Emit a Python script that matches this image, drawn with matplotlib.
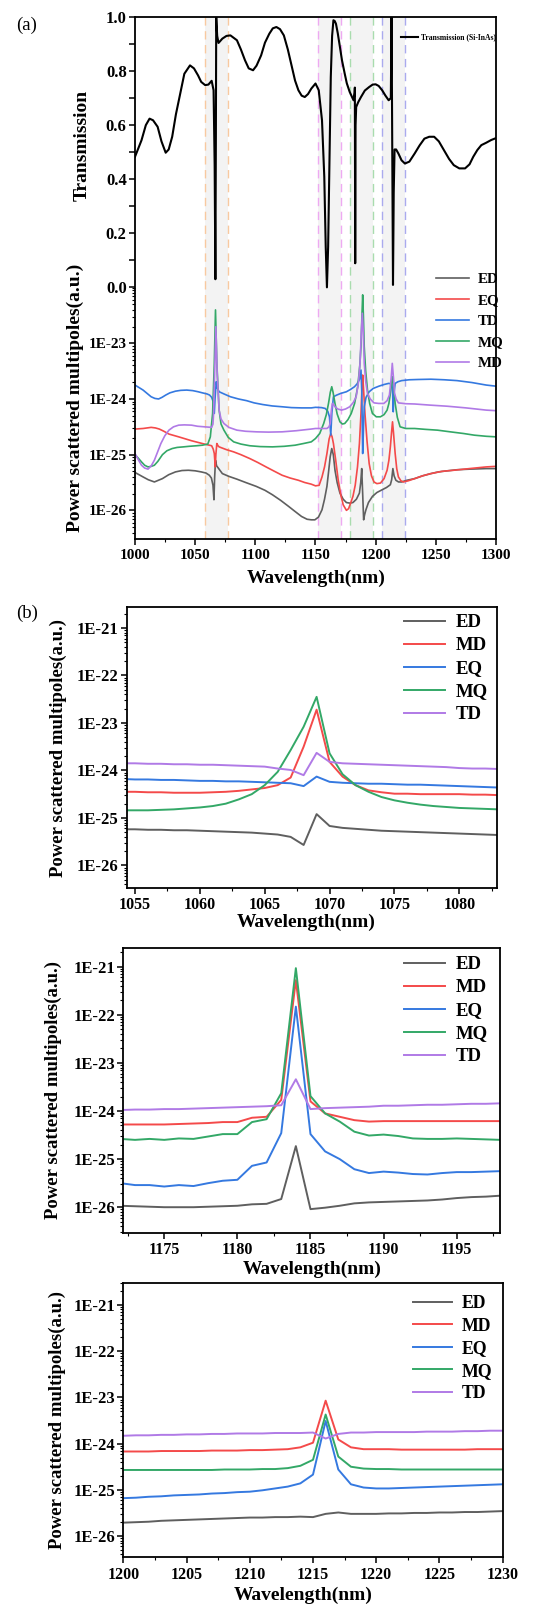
import numpy as np
import matplotlib
matplotlib.use("Agg")
import matplotlib.pyplot as plt
from matplotlib.ticker import FixedLocator, FuncFormatter, MultipleLocator, NullFormatter

plt.rcParams['font.family'] = ['Liberation Serif', 'DejaVu Serif']
plt.rcParams['font.weight'] = 'bold'
plt.rcParams['axes.labelweight'] = 'bold'

# ---------------- DATA: panel (a) ----------------
trans_wl = [1000, 1005.4, 1009, 1012.1, 1015, 1018.8, 1022, 1025.5, 1028, 1030.9, 1034, 1037.6, 1041,
            1045.7, 1049, 1052.4, 1055, 1058.3, 1061, 1063.7, 1065.3, 1066.2, 1066.8, 1067.2, 1067.5,
            1068.3, 1069.4, 1072.6, 1076, 1079.3, 1084.7, 1088, 1091.4, 1094.5, 1098.1, 1101, 1104.8,
            1108, 1111.6, 1114.5, 1117.5, 1120.5, 1123.7, 1127, 1130.4, 1133, 1135.8, 1138.5, 1141.1,
            1143.8, 1146.5, 1150, 1152.7, 1155.4, 1157.3, 1158.5, 1159.5, 1160.5, 1161.4, 1162.7,
            1163.8, 1164.9, 1166.0, 1167.0, 1168.5, 1170.3, 1172, 1174.3, 1176, 1178.4, 1181.6, 1182.5,
            1182.7, 1183.0, 1183.3, 1183.8, 1185.5, 1187.8, 1191, 1194.6, 1197.5, 1200, 1202.5, 1205.4,
            1208, 1210.8, 1212.6, 1213.2, 1213.8, 1214.4, 1215.0, 1215.7, 1217, 1218.9, 1221.5, 1224.3,
            1228, 1232.4, 1236.5, 1240.5, 1244.5, 1248.6, 1252.5, 1256.8, 1261, 1264.9, 1269.5, 1274.3,
            1278, 1281.1, 1284.5, 1287.8, 1291.9, 1296, 1300]
trans_val = [0.483, 0.544, 0.60, 0.624, 0.618, 0.594, 0.54, 0.498, 0.51, 0.557, 0.64, 0.717, 0.79,
             0.821, 0.81, 0.784, 0.76, 0.748, 0.75, 0.764, 0.729, 0.45, 0.03, 0.55, 1.0,
             0.93, 0.904, 0.92, 0.93, 0.932, 0.914, 0.88, 0.84, 0.81, 0.803, 0.82, 0.858,
             0.905, 0.938, 0.958, 0.963, 0.955, 0.932, 0.88, 0.815, 0.765, 0.729, 0.709, 0.704,
             0.715, 0.735, 0.754, 0.729, 0.618, 0.409, 0.15, 0.0, 0.15, 0.409, 0.778,
             0.93, 0.988, 0.985, 0.975, 0.94, 0.889, 0.84, 0.79, 0.755, 0.723, 0.692, 0.72,
             0.739, 0.089, 0.60, 0.667, 0.685, 0.704, 0.728, 0.741, 0.75, 0.751, 0.745, 0.729,
             0.71, 0.692, 0.70, 1.0, 0.5, 0.009, 0.35, 0.51, 0.51, 0.495, 0.47, 0.458,
             0.465, 0.495, 0.525, 0.55, 0.557, 0.557, 0.54, 0.507, 0.475, 0.452, 0.44, 0.44,
             0.455, 0.483, 0.508, 0.526, 0.535, 0.545, 0.552]

a_ed_wl = [1000, 1006.7, 1011, 1016.1, 1022.8, 1028, 1033.6, 1039, 1044.4, 1050, 1055.1, 1059, 1061.8,
           1063.5, 1064.8, 1065.6, 1066.2, 1066.9, 1067.8, 1068.5, 1072.6, 1078, 1084.7, 1092, 1100.8,
           1108, 1114.2, 1121, 1127.7, 1133, 1138.4, 1143, 1146.5, 1149.5, 1152.5, 1155.4, 1157.5,
           1159.5, 1161, 1162.2, 1163.5, 1164.8, 1166.2, 1168, 1170.3, 1173, 1175.7, 1178.5, 1181.1,
           1184, 1186.5, 1187.6, 1188.4, 1189.2, 1190, 1190.8, 1191.9, 1194, 1197.3, 1201, 1205.4,
           1209, 1212.2, 1213.3, 1214.3, 1215.3, 1216.8, 1219, 1221.6, 1226, 1232.4, 1239, 1245.9,
           1252, 1259.5, 1268, 1278.4, 1291.9, 1300]
a_ed_log = [-25.32, -25.40, -25.45, -25.49, -25.43, -25.36, -25.31, -25.285, -25.28, -25.29, -25.31,
            -25.33, -25.37, -25.42, -25.55, -25.81, -25.40, -25.10, -25.20, -25.22, -25.34, -25.39,
            -25.44, -25.50, -25.57, -25.64, -25.72, -25.82, -25.93, -26.02, -26.11, -26.16, -26.17,
            -26.17, -26.12, -25.99, -25.80, -25.57, -25.28, -25.04, -24.89, -25.0, -25.28, -25.50,
            -25.69, -25.80, -25.86, -25.87, -25.86, -25.80, -25.69, -25.50, -25.25, -25.70, -26.17,
            -26.08, -25.99, -25.86, -25.75, -25.68, -25.63, -25.59, -25.54, -25.45, -25.25, -25.38,
            -25.46, -25.49, -25.49, -25.46, -25.43, -25.38, -25.34, -25.31, -25.29, -25.27, -25.26,
            -25.25, -25.25]

a_eq_wl = [1000, 1006.7, 1013.4, 1017, 1020.2, 1024, 1028.2, 1036.3, 1047, 1057.8, 1063.7, 1065,
           1065.9, 1066.7, 1067.2, 1068, 1069, 1069.9, 1076, 1082, 1088, 1095.4, 1102, 1108.9, 1116,
           1122.3, 1129, 1135.8, 1141, 1146.5, 1150, 1153, 1155.4, 1157.5, 1159.5, 1161.3, 1162.7,
           1163.8, 1164.9, 1166.8, 1168.9, 1171, 1173, 1175.7, 1177.5, 1179.5, 1181.1, 1183, 1184.9,
           1186.5, 1187.8, 1188.6, 1189.2, 1190.0, 1191.1, 1192.8, 1194.6, 1196.5, 1198.6, 1201,
           1204, 1207, 1209.5, 1211, 1212.2, 1213.2, 1214, 1214.8, 1216.2, 1217.5, 1218.9, 1221,
           1223, 1227, 1232.4, 1239, 1245.9, 1255, 1264.9, 1278, 1291.9, 1300]
a_eq_log = [-24.54, -24.53, -24.51, -24.52, -24.54, -24.58, -24.63, -24.68, -24.75, -24.81, -24.84,
            -24.90, -24.98, -25.22, -25.0, -24.80, -24.84, -24.86, -24.91, -24.95, -25.0, -25.07,
            -25.14, -25.22, -25.30, -25.37, -25.42, -25.46, -25.50, -25.53, -25.56, -25.55, -25.40,
            -25.22, -24.98, -24.72, -24.62, -24.68, -24.80, -25.10, -25.46, -25.72, -25.90, -26.0,
            -25.97, -25.85, -25.75, -25.55, -25.22, -24.80, -24.26, -23.80, -23.57, -23.85, -24.26,
            -24.75, -25.16, -25.38, -25.49, -25.52, -25.51, -25.43, -25.28, -25.10, -24.86, -24.60,
            -24.41, -24.60, -24.98, -25.25, -25.40, -25.47, -25.49, -25.47, -25.43, -25.38, -25.34,
            -25.30, -25.28, -25.25, -25.22, -25.21]

a_td_wl = [1000, 1006.7, 1013.4, 1016.5, 1019.6, 1022.5, 1025.5, 1029, 1033.6, 1038, 1043, 1048,
           1052.4, 1056, 1059.9, 1062, 1063.7, 1065, 1065.9, 1066.5, 1067.5, 1068.3, 1069.9, 1074,
           1079.3, 1086, 1092.7, 1099, 1106.2, 1114, 1122.3, 1130, 1138.4, 1146.5, 1150, 1155,
           1158.1, 1160.2, 1161.6, 1162.7, 1163.6, 1164.9, 1167.6, 1171, 1175.7, 1179, 1182.4,
           1184.5, 1186.5, 1187.8, 1188.5, 1189.2, 1189.9, 1190.5, 1192, 1194.6, 1198, 1202.7, 1207,
           1210.8, 1213.5, 1214.1, 1214.6, 1215.2, 1216.2, 1218.5, 1221.6, 1228, 1235, 1245.9, 1257,
           1267.6, 1280, 1291.9, 1300]
a_td_log = [-23.75, -23.84, -23.96, -23.99, -24.0, -23.97, -23.93, -23.89, -23.86, -23.845, -23.84,
            -23.85, -23.87, -23.89, -23.91, -23.93, -23.97, -24.05, -24.26, -24.0, -23.69, -23.80,
            -23.87, -23.91, -23.96, -24.0, -24.03, -24.07, -24.10, -24.125, -24.14, -24.155, -24.16,
            -24.16, -24.15, -24.155, -24.17, -24.22, -24.32, -24.65, -24.25, -23.96, -23.93, -23.90,
            -23.87, -23.83, -23.78, -23.73, -23.65, -23.48, -23.90, -24.98, -24.50, -24.14, -23.97,
            -23.87, -23.81, -23.77, -23.74, -23.72, -23.73, -23.90, -24.23, -23.90, -23.72, -23.69,
            -23.67, -23.655, -23.65, -23.645, -23.655, -23.67, -23.705, -23.75, -23.77]

a_mq_wl = [1000, 1003, 1005.4, 1008, 1010.8, 1013.5, 1016.1, 1019, 1022.8, 1026.5, 1030.9, 1035,
           1040.3, 1045, 1051.1, 1056, 1060.5, 1062.6, 1064.5, 1065.9, 1066.9, 1068, 1069.9, 1071.5,
           1073.9, 1077.5, 1082, 1088, 1095.4, 1104, 1114.2, 1124, 1133.1, 1140, 1146.5, 1150,
           1153.5, 1156.8, 1159, 1160.8, 1162.3, 1163.5, 1164.6, 1166.2, 1168, 1170.3, 1172.3,
           1174.3, 1177, 1179.7, 1182.5, 1185.1, 1186.8, 1187.8, 1188.6, 1189.2, 1189.8, 1190.5,
           1191.7, 1193.2, 1195, 1197.3, 1200.5, 1204, 1207, 1209.5, 1211, 1212.2, 1213.2, 1214,
           1215, 1216.2, 1218, 1220.3, 1225, 1232.4, 1241, 1251.4, 1262, 1273, 1282, 1291.9, 1300]
a_mq_log = [-25.0, -25.07, -25.13, -25.19, -25.22, -25.21, -25.19, -25.12, -25.0, -24.93, -24.89,
            -24.87, -24.86, -24.85, -24.84, -24.83, -24.81, -24.68, -24.26, -23.36, -22.40, -23.36,
            -24.20, -24.45, -24.56, -24.69, -24.77, -24.81, -24.84, -24.855, -24.86, -24.85, -24.83,
            -24.80, -24.77, -24.71, -24.62, -24.44, -24.28, -24.08, -23.88, -23.78, -23.88, -24.08,
            -24.27, -24.41, -24.45, -24.44, -24.37, -24.26, -24.08, -23.78, -23.40, -23.06, -22.50,
            -22.13, -22.50, -23.06, -23.50, -23.84, -24.08, -24.26, -24.32, -24.32, -24.28, -24.20,
            -24.08, -23.90, -23.70, -23.60, -23.80, -24.08, -24.33, -24.50, -24.53, -24.53, -24.545,
            -24.56, -24.59, -24.62, -24.65, -24.67, -24.68]

a_md_wl = [1000, 1003, 1005.4, 1008, 1010.8, 1013.5, 1016.1, 1018.8, 1021.5, 1024.8, 1028.2, 1032,
           1036.3, 1041, 1047, 1052, 1057.8, 1063.7, 1064.8, 1065.3, 1066.4, 1067.2, 1068.3, 1069.9,
           1071.5, 1073.9, 1078, 1084.7, 1092, 1100.8, 1111, 1122.3, 1134, 1146.5, 1150, 1155,
           1159.5, 1161.2, 1162.2, 1163.2, 1164, 1165, 1166.2, 1168.5, 1171.6, 1175, 1178.4, 1181.5,
           1183.8, 1185.7, 1187, 1188.1, 1188.9, 1189.7, 1190.5, 1191.8, 1193.2, 1195.5, 1198.6,
           1202.5, 1206.8, 1209.5, 1211.4, 1212.8, 1213.8, 1214.8, 1215.7, 1217, 1218.9, 1225,
           1232.4, 1245, 1259.5, 1275, 1291.9, 1300]
a_md_log = [-24.98, -25.10, -25.19, -25.24, -25.26, -25.20, -25.10, -24.95, -24.80, -24.66, -24.56,
            -24.50, -24.47, -24.465, -24.47, -24.49, -24.50, -24.51, -24.45, -24.26, -23.36, -22.70,
            -23.54, -24.20, -24.36, -24.44, -24.51, -24.56, -24.58, -24.59, -24.595, -24.59, -24.57,
            -24.54, -24.53, -24.53, -24.53, -24.50, -24.44, -24.20, -24.08, -24.10, -24.14, -24.18,
            -24.20, -24.18, -24.14, -24.06, -23.96, -23.70, -23.36, -22.80, -22.46, -22.80, -23.36,
            -23.70, -23.90, -24.0, -24.07, -24.08, -24.08, -24.03, -23.93, -23.65, -23.36, -23.62,
            -23.90, -24.0, -24.07, -24.085, -24.09, -24.11, -24.13, -24.16, -24.20, -24.21]

a_labels = ['ED', 'EQ', 'TD', 'MQ', 'MD']
shade_bands = [(1058, 1077), (1152, 1171), (1178.5, 1198), (1205, 1224.5)]

# ---------------- DATA: panel (b) ----------------
b_labels = ['ED', 'MD', 'EQ', 'MQ', 'TD']

b1_wl = list(range(1054, 1084))
b1_ed = [-25.24, -25.24, -25.25, -25.25, -25.26, -25.26, -25.27, -25.28, -25.29, -25.30, -25.31,
         -25.33, -25.35, -25.40, -25.57, -24.92, -25.17, -25.21, -25.23, -25.25, -25.27, -25.28,
         -25.29, -25.30, -25.31, -25.32, -25.33, -25.34, -25.35, -25.36]
b1_md = [-24.45, -24.45, -24.46, -24.46, -24.47, -24.47, -24.47, -24.46, -24.45, -24.43, -24.40,
         -24.37, -24.31, -24.15, -23.50, -22.72, -23.82, -24.13, -24.31, -24.42, -24.46, -24.49,
         -24.49, -24.50, -24.50, -24.50, -24.50, -24.51, -24.51, -24.52]
b1_eq = [-24.18, -24.19, -24.19, -24.20, -24.20, -24.21, -24.22, -24.22, -24.23, -24.23, -24.24,
         -24.25, -24.26, -24.27, -24.33, -24.13, -24.24, -24.26, -24.27, -24.28, -24.28, -24.29,
         -24.30, -24.30, -24.31, -24.32, -24.33, -24.34, -24.35, -24.36]
b1_mq = [-24.84, -24.84, -24.84, -24.83, -24.82, -24.80, -24.78, -24.75, -24.70, -24.61, -24.50,
         -24.31, -24.03, -23.57, -23.08, -22.45, -23.64, -24.08, -24.31, -24.45, -24.56, -24.63,
         -24.68, -24.72, -24.75, -24.77, -24.79, -24.80, -24.81, -24.82]
b1_td = [-23.85, -23.85, -23.86, -23.86, -23.87, -23.87, -23.88, -23.88, -23.89, -23.90, -23.91,
         -23.92, -23.96, -23.99, -24.10, -23.63, -23.82, -23.85, -23.86, -23.87, -23.88, -23.89,
         -23.90, -23.91, -23.92, -23.93, -23.95, -23.96, -23.96, -23.97]

b2_wl = list(range(1172, 1199))
b2_ed = [-25.97, -25.98, -25.99, -26.0, -26.0, -26.0, -25.99, -25.98, -25.97, -25.94, -25.93, -25.83,
         -24.73, -26.04, -26.01, -25.97, -25.92, -25.90, -25.89, -25.88, -25.87, -25.86, -25.84,
         -25.81, -25.79, -25.78, -25.76]
b2_md = [-24.28, -24.28, -24.28, -24.28, -24.27, -24.26, -24.25, -24.23, -24.23, -24.14, -24.12,
         -23.77, -21.28, -23.80, -24.05, -24.12, -24.19, -24.22, -24.21, -24.21, -24.21, -24.21,
         -24.21, -24.21, -24.21, -24.21, -24.21]
b2_eq = [-25.50, -25.54, -25.54, -25.57, -25.54, -25.56, -25.50, -25.45, -25.43, -25.14, -25.07,
         -24.46, -21.83, -24.48, -24.84, -25.0, -25.21, -25.29, -25.26, -25.28, -25.31, -25.32,
         -25.29, -25.27, -25.27, -25.26, -25.25]
b2_mq = [-24.58, -24.60, -24.58, -24.60, -24.57, -24.58, -24.53, -24.48, -24.48, -24.23, -24.17,
         -23.63, -21.03, -23.69, -24.05, -24.22, -24.43, -24.51, -24.49, -24.52, -24.57, -24.58,
         -24.58, -24.57, -24.58, -24.59, -24.60]
b2_td = [-23.98, -23.97, -23.97, -23.96, -23.96, -23.95, -23.94, -23.93, -23.92, -23.91, -23.90,
         -23.88, -23.34, -23.96, -23.94, -23.93, -23.92, -23.91, -23.89, -23.89, -23.88, -23.87,
         -23.87, -23.86, -23.85, -23.85, -23.84]

b3_wl = list(range(1200, 1231))
b3_ed = [-25.71, -25.70, -25.69, -25.67, -25.66, -25.65, -25.64, -25.63, -25.62, -25.61, -25.60,
         -25.60, -25.59, -25.59, -25.58, -25.59, -25.52, -25.49, -25.52, -25.52, -25.52, -25.51,
         -25.51, -25.50, -25.50, -25.49, -25.49, -25.48, -25.48, -25.47, -25.46]
b3_md = [-24.17, -24.17, -24.17, -24.16, -24.16, -24.16, -24.16, -24.15, -24.15, -24.15, -24.14,
         -24.14, -24.13, -24.12, -24.08, -23.98, -23.07, -23.91, -24.08, -24.12, -24.12, -24.12,
         -24.13, -24.13, -24.13, -24.13, -24.13, -24.13, -24.12, -24.12, -24.12]
b3_eq = [-25.18, -25.17, -25.15, -25.14, -25.12, -25.11, -25.10, -25.08, -25.07, -25.05, -25.04,
         -25.01, -24.97, -24.93, -24.86, -24.67, -23.51, -24.56, -24.88, -24.95, -24.97, -24.97,
         -24.96, -24.95, -24.94, -24.93, -24.92, -24.91, -24.90, -24.89, -24.88]
b3_mq = [-24.57, -24.57, -24.57, -24.57, -24.57, -24.57, -24.57, -24.57, -24.56, -24.56, -24.56,
         -24.55, -24.55, -24.53, -24.48, -24.35, -23.37, -24.28, -24.50, -24.54, -24.55, -24.55,
         -24.56, -24.56, -24.56, -24.56, -24.56, -24.56, -24.56, -24.56, -24.56]
b3_td = [-23.83, -23.82, -23.82, -23.81, -23.81, -23.80, -23.80, -23.79, -23.79, -23.78, -23.78,
         -23.78, -23.77, -23.77, -23.77, -23.76, -23.89, -23.79, -23.76, -23.76, -23.75, -23.75,
         -23.75, -23.75, -23.74, -23.74, -23.74, -23.73, -23.73, -23.72, -23.72]

# ---------------- STYLE ----------------
colors = ['#5f5f5f', '#f44a4a', '#3579e0', '#33a867', '#b07ae6']
band_line_colors = ['#f8c9a0', '#eeaaf2', '#a9dcae', '#aaaaee']

W, H = 537, 1607
fig = plt.figure(figsize=(W / 100, H / 100), dpi=100)


def rect(l, t, r, b):
    return [l / W, 1 - b / H, (r - l) / W, (b - t) / H]


def fmt_e(v, p):
    return "1E%d" % int(round(np.log10(v)))


def style_axes(ax, lw=1.3):
    for s in ax.spines.values():
        s.set_linewidth(lw)
    ax.tick_params(which='major', direction='out', length=4, width=1.1, pad=2)
    ax.tick_params(which='minor', direction='out', length=2.2, width=0.8)


LEGEND_FONT = 'Liberation Serif'

# ---------------- PANEL (a) ----------------
ax = fig.add_axes(rect(135, 17, 496, 539.3))
ax.set_yscale('log')
ax.set_xlim(1000, 1300)
ax.set_ylim(10 ** -26.52, 10 ** -17.14)
for (lo, hi), c in zip(shade_bands, band_line_colors):
    ax.axvspan(lo, hi, color='#f3f3f3', zorder=0, lw=0)
    ax.axvline(lo, color=c, ls=(0, (6, 4)), lw=1.0, zorder=0.5)
    ax.axvline(hi, color=c, ls=(0, (6, 4)), lw=1.0, zorder=0.5)

series_a = [(a_ed_wl, a_ed_log), (a_eq_wl, a_eq_log), (a_td_wl, a_td_log),
            (a_mq_wl, a_mq_log), (a_md_wl, a_md_log)]
handles = []
for (wl, lg), c, lab in zip(series_a, colors, a_labels):
    h, = ax.plot(wl, 10 ** np.array(lg), color=c, lw=1.2, label=lab)
    handles.append(h)

ax.yaxis.set_major_locator(FixedLocator([1e-26, 1e-25, 1e-24, 1e-23]))
ax.yaxis.set_major_formatter(FuncFormatter(fmt_e))
minor = [k * 10.0 ** n for n in range(-27, -22) for k in range(2, 10)]
minor = [m for m in minor if 10 ** -26.52 < m < 1e-22] + [1e-22]
ax.yaxis.set_minor_locator(FixedLocator(minor))
ax.yaxis.set_minor_formatter(NullFormatter())
ax.xaxis.set_major_locator(MultipleLocator(50))
ax.xaxis.set_minor_locator(MultipleLocator(25))
style_axes(ax)
ax.tick_params(axis='x', labelsize=11, pad=3)
ax.tick_params(axis='y', labelsize=11)

axt = ax.twinx()
axt.set_ylim(-0.932, 1.0)
axt.plot(trans_wl, trans_val, color='black', lw=1.5, label='Transmission (Si-InAs)')
axt.yaxis.tick_left()
axt.yaxis.set_label_position('left')
axt.yaxis.set_major_locator(FixedLocator([0.0, 0.2, 0.4, 0.6, 0.8, 1.0]))
axt.yaxis.set_minor_locator(FixedLocator([0.1, 0.3, 0.5, 0.7, 0.9]))
axt.yaxis.set_major_formatter(FuncFormatter(lambda v, p: "%.1f" % v))
axt.yaxis.set_minor_formatter(NullFormatter())
for s in axt.spines.values():
    s.set_visible(False)
axt.tick_params(which='major', direction='out', length=4, width=1.1, pad=2, labelsize=12)
axt.tick_params(which='minor', direction='out', length=4, width=1.1)

lt = axt.legend(loc='upper right', bbox_to_anchor=(1.0, 0.969), frameon=False,
                prop={'family': LEGEND_FONT, 'weight': 'bold', 'size': 5.5},
                handlelength=2.2, handletextpad=0.4, borderpad=0, borderaxespad=0)
axt.add_artist(lt)
axt.legend(handles=handles, loc='upper left', bbox_to_anchor=(0.834, 0.51), frameon=False,
           prop={'family': LEGEND_FONT, 'weight': 'bold', 'size': 10.8},
           handlelength=2.2, handletextpad=0.55, labelspacing=0.5, borderpad=0,
           borderaxespad=0)

fig.text(82 / W, 1 - 145 / H, 'Transmission', rotation=90, ha='center', va='center',
         fontsize=14, fontweight='bold')
fig.text(75 / W, 1 - 398 / H, 'Power scattered multipoles(a.u.)', rotation=90, ha='center',
         va='center', fontsize=14, fontweight='bold')
fig.text(316 / W, 1 - 578 / H, 'Wavelength(nm)', ha='center', va='center', fontsize=14,
         fontweight='bold')
fig.text(16 / W, 1 - 25 / H, '(a)', ha='left', va='center', fontsize=13.5, fontweight='normal')
fig.text(16 / W, 1 - 613 / H, '(b)', ha='left', va='center', fontsize=13.5, fontweight='normal')

# ---------------- PANEL (b) ----------------
b_panels = [
    dict(rect=(126.7, 607.3, 497.3, 887.7), xlim=(1054.36, 1082.93), ylim=(-26.47, -20.564),
         wl=b1_wl, data=[b1_ed, b1_md, b1_eq, b1_mq, b1_td], ticks=[1055, 1060, 1065, 1070, 1075, 1080],
         leg=(0.748, 0.975), lsize=13.5, ylab=(58, 748), xlab=(306, 922)),
    dict(rect=(123.3, 948.3, 500.0, 1232.7), xlim=(1172.2, 1197.96), ylim=(-26.53, -20.617),
         wl=b2_wl, data=[b2_ed, b2_md, b2_eq, b2_mq, b2_td], ticks=[1175, 1180, 1185, 1190, 1195],
         leg=(0.745, 0.972), lsize=13.5, ylab=(53, 1090), xlab=(312, 1269)),
    dict(rect=(123.3, 1282.7, 502.7, 1557.3), xlim=(1200, 1230), ylim=(-26.46, -20.517),
         wl=b3_wl, data=[b3_ed, b3_md, b3_eq, b3_mq, b3_td], ticks=[1200, 1205, 1210, 1215, 1220, 1225, 1230],
         leg=(0.7636, 0.955), lsize=12.8, ylab=(57, 1420), xlab=(303, 1595)),
]

for p in b_panels:
    bx = fig.add_axes(rect(*p['rect']))
    bx.set_yscale('log')
    for lg, c, lab in zip(p['data'], colors, b_labels):
        bx.plot(p['wl'], 10 ** np.array(lg), color=c, lw=1.4, label=lab)
    bx.set_xlim(*p['xlim'])
    bx.set_ylim(10 ** p['ylim'][0], 10 ** p['ylim'][1])
    bx.yaxis.set_major_locator(FixedLocator([10.0 ** n for n in range(-26, -20)]))
    bx.yaxis.set_major_formatter(FuncFormatter(fmt_e))
    mn = [k * 10.0 ** n for n in range(-27, -20) for k in range(2, 10)]
    mn = [m for m in mn if 10 ** p['ylim'][0] < m < 10 ** p['ylim'][1]]
    bx.yaxis.set_minor_locator(FixedLocator(mn))
    bx.yaxis.set_minor_formatter(NullFormatter())
    bx.xaxis.set_major_locator(FixedLocator(p['ticks']))
    bx.xaxis.set_minor_locator(MultipleLocator(2.5))
    style_axes(bx)
    bx.tick_params(axis='x', labelsize=11.5, pad=3)
    bx.tick_params(axis='y', labelsize=12)
    bx.legend(loc='upper left', bbox_to_anchor=p['leg'], frameon=False,
              prop={'family': LEGEND_FONT, 'weight': 'bold', 'size': p['lsize']},
              handlelength=2.2, handletextpad=0.55, labelspacing=0.31, borderpad=0,
              borderaxespad=0)
    fig.text(p['ylab'][0] / W, 1 - p['ylab'][1] / H, 'Power scattered multipoles(a.u.)',
             rotation=90, ha='center', va='center', fontsize=13.5, fontweight='bold')
    fig.text(p['xlab'][0] / W, 1 - p['xlab'][1] / H, 'Wavelength(nm)', ha='center',
             va='center', fontsize=14, fontweight='bold')

fig.savefig('out.png', dpi=100)
